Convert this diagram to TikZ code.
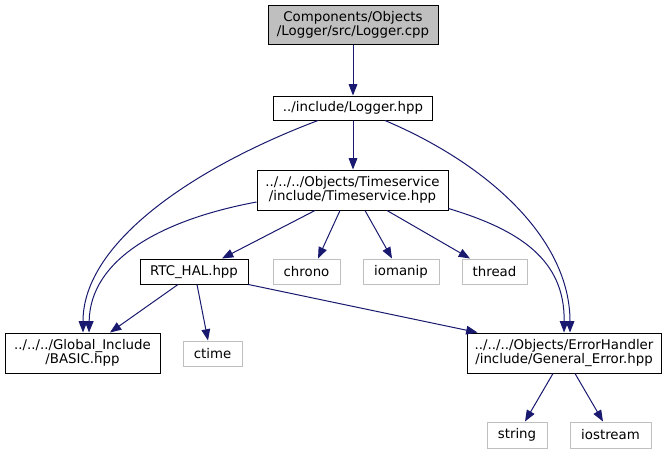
\documentclass[tikz,border=0pt]{standalone}
\usepackage{fontspec}
\setmainfont{DejaVu Sans}
\usetikzlibrary{arrows.meta,calc}
\definecolor{edgeblue}{HTML}{191970}
\definecolor{sysgray}{HTML}{BFBFBF}
\tikzset{
  box/.style={draw=black, line width=0.75pt, fill=white, inner sep=0pt, align=center,
    font=\fontsize{10}{10.5}\selectfont},
  sysbox/.style={box, draw=sysgray},
  rootbox/.style={box, fill=sysgray},
  dep/.style={draw=edgeblue, line width=0.75pt, -{Triangle[length=8.5pt,width=6.5pt]}, color=edgeblue},
}
\begin{document}
\begin{tikzpicture}[x=0.75pt,y=-0.75pt]
\useasboundingbox (0,0) rectangle (667,455);
\fill[white] (0,0) rectangle (667,455);
% nodes
\node[rootbox, minimum width=127.5pt, minimum height=29.25pt] (root) at (353,24.5) {Components/Objects\\/Logger/src/Logger.cpp};
\node[box, minimum width=119.25pt, minimum height=18pt] (lg) at (353,108) {../include/Logger.hpp};
\node[box, minimum width=143.25pt, minimum height=30pt] (ts) at (352.5,190) {../../../Objects/Timeservice\\/include/Timeservice.hpp};
\node[box, minimum width=81pt, minimum height=18.75pt] (rtc) at (194,271.5) {RTC\_HAL.hpp};
\node[sysbox, minimum width=50.25pt, minimum height=18.75pt] (chrono) at (306.5,271.5) {chrono};
\node[sysbox, minimum width=57pt, minimum height=18.75pt] (iomanip) at (401,271.5) {iomanip};
\node[sysbox, minimum width=48.75pt, minimum height=18.75pt] (thread) at (494.5,271.5) {thread};
\node[box, minimum width=116.25pt, minimum height=30pt] (basic) at (82.5,353) {../../../Global\_Include\\/BASIC.hpp};
\node[sysbox, minimum width=44.25pt, minimum height=18.75pt] (ctime) at (212.5,353.5) {ctime};
\node[box, minimum width=145.5pt, minimum height=30pt] (gerr) at (564,353) {../../../Objects/ErrorHandler\\/include/General\_Error.hpp};
\node[sysbox, minimum width=45pt, minimum height=19.5pt] (string) at (517,435) {string};
\node[sysbox, minimum width=60.75pt, minimum height=19.5pt] (iostream) at (610.5,435) {iostream};
% edges
\draw[dep] (root.south) -- (root.south |- lg.north);
\draw[dep] (lg.south) -- (lg.south |- ts.north);
\draw[dep] ($(lg.south)+(-35,0)$) .. controls (200,165) and (83,240) .. ($(basic.north)+(0.5,0)$);
\draw[dep] ($(lg.south)+(32,0)$) .. controls (490,165) and (570,240) .. ($(gerr.north)+(6,0)$);
\draw[dep] ($(ts.west)+(0,12)$) .. controls (160,220) and (90,260) .. ($(basic.north)+(6.5,0)$);
\draw[dep] ($(ts.south)+(-37.5,0)$) -- ($(rtc.north)+(28,0)$);
\draw[dep] ($(ts.south)+(-12.5,0)$) -- ($(chrono.north)+(11.5,0)$);
\draw[dep] ($(ts.south)+(12.5,0)$) -- ($(iomanip.north)+(-9,0)$);
\draw[dep] ($(ts.south)+(34.5,0)$) -- ($(thread.north)+(-24.5,0)$);
\draw[dep] ($(ts.south east)+(0,-2)$) .. controls (520,230) and (565,260) .. ($(gerr.north)+(0,0)$);
\draw[dep] ($(rtc.south)+(-16,0)$) -- ($(basic.north)+(27.5,0)$);
\draw[dep] ($(rtc.south)+(3,0)$) -- ($(ctime.north)+(-4.5,0)$);
\draw[dep] (rtc.south east) -- ($(gerr.north west)+(11,0)$);
\draw[dep] ($(gerr.south)+(-11,0)$) -- ($(string.north)+(8,0)$);
\draw[dep] ($(gerr.south)+(11,0)$) -- ($(iostream.north)+(-7.5,0)$);
\end{tikzpicture}
\end{document}
